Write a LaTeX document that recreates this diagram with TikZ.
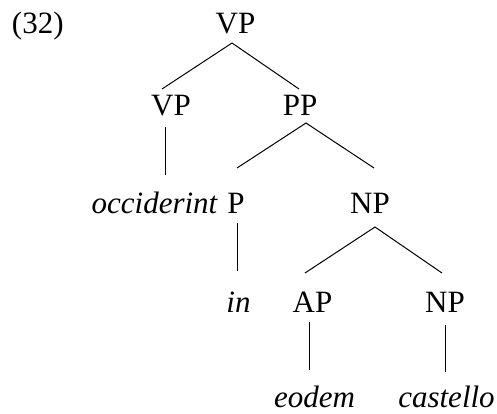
\documentclass[tikz,border=0pt]{standalone}
\usepackage{fontspec}
\newfontfamily\treefont{Liberation Serif}
\begin{document}
\begin{tikzpicture}[x=1pt,y=-1pt,
  lbl/.style={anchor=base,inner sep=0pt,outer sep=0pt,text height=21pt,text depth=0pt,
              font=\treefont\fontsize{31}{37}\selectfont},
  word/.style={lbl,font=\treefont\fontsize{31}{37}\selectfont\itshape},
  branch/.style={draw=black,line width=1pt}]
\useasboundingbox (0,0) rectangle (497,413);

% example number
\node[lbl,anchor=base west] (num) at (12,33) {(32)};

% categories and words, placed by their baselines
\node[lbl]  (vp0) at (235.5,33)  {VP};
\node[lbl]  (vp1) at (171,115)   {VP};
\node[lbl]  (pp)  at (300,115.5) {PP};
\node[word] (occ) at (154.5,213) {occiderint};
\node[lbl]  (p)   at (236,213)   {P};
\node[lbl]  (np1) at (370,213)   {NP};
\node[word] (inw) at (238.5,312) {in};
\node[lbl]  (ap)  at (312.5,312) {AP};
\node[lbl]  (np2) at (445,312)   {NP};
\node[word] (eod) at (314.5,407) {eodem};
\node[word] (cas) at (446.5,407) {castello};

% branches
\draw[branch] ([shift={(-3.5,10)}]vp0.south) -- ([shift={(-9,-5)}]vp1.north);
\draw[branch] ([shift={(-3.5,10)}]vp0.south) -- ([shift={(-1,-5.5)}]pp.north);
\draw[branch] ([shift={(-6,12)}]vp1.south)   -- ([shift={(10.5,-17)}]occ.north);
\draw[branch] ([shift={(6,7.5)}]pp.south)    -- ([shift={(1,-24)}]p.north);
\draw[branch] ([shift={(6,7.5)}]pp.south)    -- ([shift={(4,-24)}]np1.north);
\draw[branch] ([shift={(1,10)}]p.south)      -- ([shift={(-1.5,-20)}]inw.north);
\draw[branch] ([shift={(5,14)}]np1.south)    -- ([shift={(-7.5,-18)}]ap.north);
\draw[branch] ([shift={(5,14)}]np1.south)    -- ([shift={(-3,-18)}]np2.north);
\draw[branch] ([shift={(-3.5,10)}]ap.south)  -- ([shift={(-5.5,-16)}]eod.north);
\draw[branch] ([shift={(0,13)}]np2.south)    -- ([shift={(-1.5,-14)}]cas.north);
\end{tikzpicture}
\end{document}
